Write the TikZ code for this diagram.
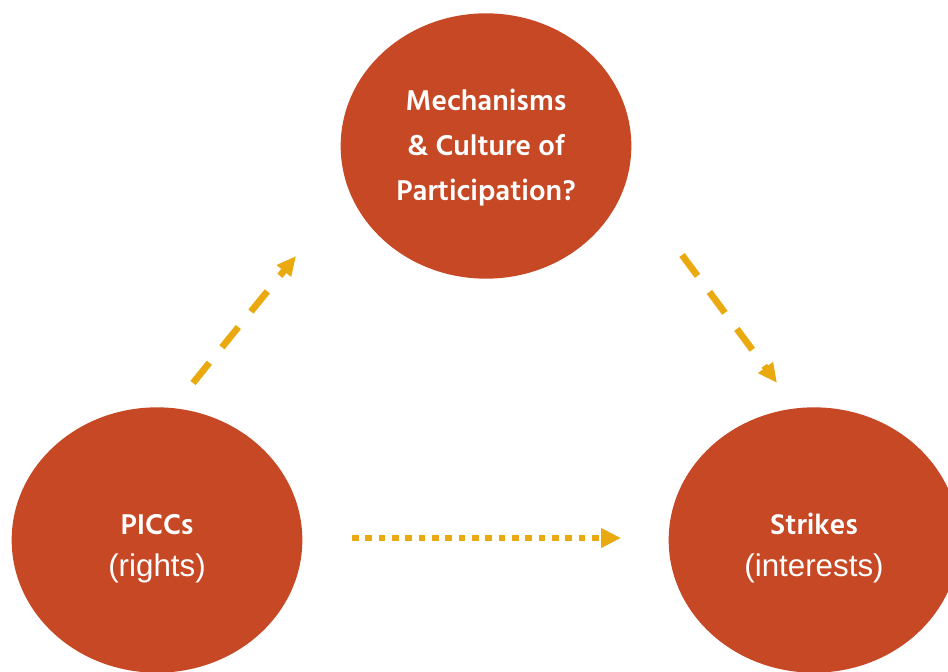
\documentclass[tikz,border=0pt]{standalone}
\usepackage{fontspec}
\setmainfont{Liberation Sans}
\newfontfamily\headfont{Hind Siliguri}
\usetikzlibrary{arrows.meta,positioning,shapes.geometric}
\definecolor{brick}{HTML}{C64824}
\definecolor{amber}{HTML}{E9A90F}
\tikzset{
  bubble/.style={
    ellipse,
    fill=brick,
    text=white,
    align=center,
    inner sep=0pt,
    minimum width=218pt,
    minimum height=199pt,
    font=\fontsize{22pt}{33.75pt}\selectfont
  },
  pair/.style={
    bubble,
    font=\fontsize{22pt}{31pt}\selectfont
  },
  dasharrow/.style={
    draw=amber,
    line width=5pt,
    dash pattern=on 19.5pt off 15pt,
    -{Triangle[length=14.5pt,width=13pt]}
  },
  dotarrow/.style={
    draw=amber,
    line width=5pt,
    dash pattern=on 5pt off 5pt,
    -{Triangle[length=15pt,width=14pt]}
  }
}
\newcommand{\headtxt}[1]{{\headfont\bfseries #1}}
\newcommand{\subtxt}[1]{{\fontsize{23.5pt}{28pt}\selectfont #1}}

\begin{document}
\begin{tikzpicture}[x=0.75pt,y=-0.75pt]
\useasboundingbox (0,0) rectangle (948,671);
\clip (0,0) rectangle (948,671);

% The three bubbles
\node[bubble] (mech) at (486,146) {\rule{0pt}{19pt}\headtxt{Mechanisms}\\\headtxt{\& Culture of}\\\headtxt{Participation?}};
\node[pair] (piccs) at (157,540) {\rule{0pt}{28pt}\headtxt{PICCs}\\\subtxt{(rights)}};
\node[pair] (strikes) at (814,540) {\rule{0pt}{28pt}\headtxt{Strikes}\\\subtxt{(interests)}};

% Arrow ends
\coordinate (up-s) at (193,383);
\coordinate (up-e) at (296,256);
\coordinate (down-s) at (682,255);
\coordinate (down-e) at (777,383);
\coordinate (across-s) at (352,538);
\coordinate (across-e) at (621,538);

% Edges
\draw[dasharrow] (up-s) -- (up-e);
\draw[dasharrow] (down-s) -- (down-e);
\draw[dotarrow] (across-s) -- (across-e);

\end{tikzpicture}
\end{document}
